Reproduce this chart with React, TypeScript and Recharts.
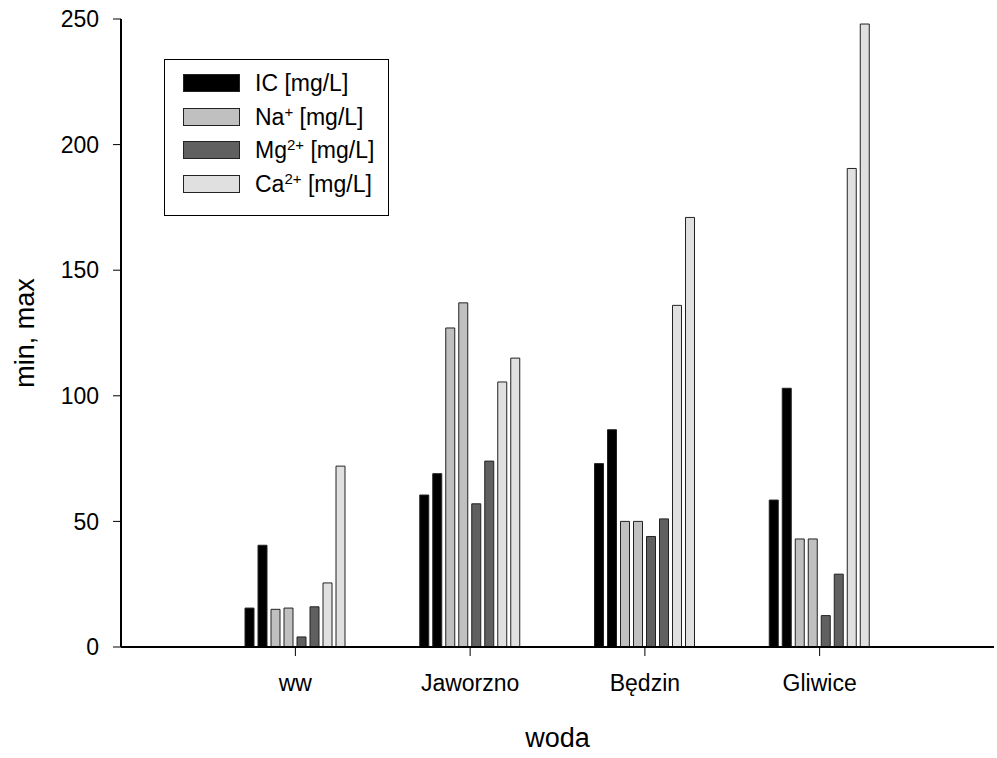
import React from "react"
import { BarChart, Bar, XAxis, YAxis } from "recharts"

const categories = ["ww", "Jaworzno", "Będzin", "Gliwice"]
const icMin = [15.5, 60.5, 73, 58.5]
const icMax = [40.5, 69, 86.5, 103]
const naMin = [15, 127, 50, 43]
const naMax = [15.5, 137, 50, 43]
const mgMin = [4, 57, 44, 12.5]
const mgMax = [16, 74, 51, 29]
const caMin = [25.5, 105.5, 136, 190.5]
const caMax = [72, 115, 171, 248]
const yTicks = [0, 50, 100, 150, 200, 250]

const FONT = "'Liberation Sans', Arial, sans-serif"

const seriesStyle = [
  { key: "ic", fill: "#000000", label: "IC", sup: "" },
  { key: "na", fill: "#c0c0c0", label: "Na", sup: "+" },
  { key: "mg", fill: "#606060", label: "Mg", sup: "2+" },
  { key: "ca", fill: "#e0e0e0", label: "Ca", sup: "2+" },
]

const data = categories.map((name, i) => ({
  name,
  icMin: icMin[i],
  icMax: icMax[i],
  naMin: naMin[i],
  naMax: naMax[i],
  mgMin: mgMin[i],
  mgMax: mgMax[i],
  caMin: caMin[i],
  caMax: caMax[i],
}))

function LegendBox() {
  return (
    <div
      style={{
        position: "absolute",
        left: 164,
        top: 59,
        width: 225,
        height: 157,
        border: "1px solid #000",
        boxSizing: "border-box",
        background: "#fff",
        fontFamily: FONT,
        fontSize: 23,
      }}
    >
      {seriesStyle.map((s, i) => (
        <div
          key={s.key}
          style={{
            position: "absolute",
            left: 18,
            top: 14 + i * 33.5,
            height: 18,
            display: "flex",
            alignItems: "center",
            whiteSpace: "nowrap",
          }}
        >
          <div
            style={{
              width: 57,
              height: 18,
              background: s.fill,
              border: "1px solid #222",
              boxSizing: "border-box",
              marginRight: 15,
            }}
          />
          <span style={{ lineHeight: "18px" }}>
            {s.label}
            {s.sup && (
              <sup style={{ fontSize: 15, verticalAlign: "8px", lineHeight: 0 }}>{s.sup}</sup>
            )}{" "}
            [mg/L]
          </span>
        </div>
      ))}
    </div>
  )
}

export default function App() {
  const bars: [string, string][] = [
    ["icMin", "#000000"],
    ["icMax", "#000000"],
    ["naMin", "#c0c0c0"],
    ["naMax", "#c0c0c0"],
    ["mgMin", "#606060"],
    ["mgMax", "#606060"],
    ["caMin", "#e0e0e0"],
    ["caMax", "#e0e0e0"],
  ]
  return (
    <div style={{ position: "absolute", left: 0, top: 0, width: 997, height: 758, background: "#fff" }}>
      <BarChart
        width={997}
        height={758}
        data={data}
        margin={{ top: 19, right: 3, bottom: 51, left: 61 }}
        barSize={9}
        barGap={4}
      >
        <XAxis
          dataKey="name"
          padding={{ left: 87, right: 87 }}
          height={60}
          axisLine={{ stroke: "#000", strokeWidth: 2 }}
          tickLine={{ stroke: "#000", strokeWidth: 1 }}
          tickSize={9}
          tickMargin={19}
          tick={{ fill: "#000", fontSize: 23, fontFamily: FONT }}
          label={{ value: "woda", position: "insideBottom", offset: -40, fill: "#000", fontSize: 27, fontFamily: FONT }}
        />
        <XAxis
          xAxisId="top"
          dataKey="name"
          orientation="top"
          height={0}
          tick={false}
          tickLine={false}
          axisLine={{ stroke: "#222", strokeWidth: 2 }}
        />
        <YAxis
          domain={[0, 250]}
          ticks={yTicks}
          width={60}
          axisLine={{ stroke: "#000", strokeWidth: 2 }}
          tickLine={{ stroke: "#000", strokeWidth: 1 }}
          tickSize={8}
          tickMargin={14}
          tick={{ fill: "#000", fontSize: 23, fontFamily: FONT }}
          label={{ value: "min, max", angle: -90, position: "insideLeft", offset: -37, fill: "#000", fontSize: 27, fontFamily: FONT, style: { textAnchor: "middle" } }}
        />
        <YAxis
          yAxisId="right"
          orientation="right"
          domain={[0, 250]}
          width={0}
          tick={false}
          tickLine={false}
          axisLine={{ stroke: "#222", strokeWidth: 2 }}
        />
        {bars.map(([k, c]) => (
          <Bar key={k} dataKey={k} fill={c} stroke="#222" strokeWidth={1} isAnimationActive={false} />
        ))}
      </BarChart>
      <LegendBox />
    </div>
  )
}
